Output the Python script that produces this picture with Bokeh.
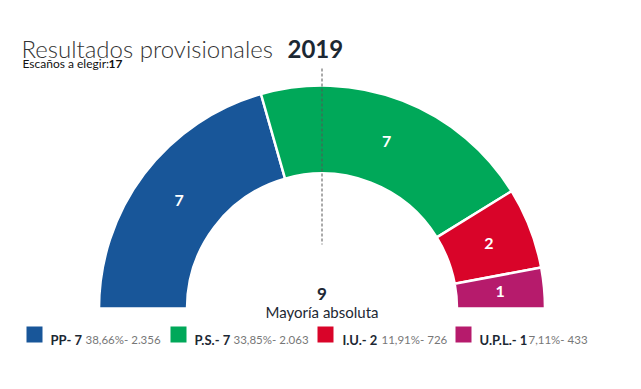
import numpy as np
from bokeh.plotting import figure
from bokeh.models import Range1d, ColumnDataSource
from bokeh.core.properties import value
from bokeh.embed import file_html
from bokeh.resources import INLINE

# ---- data ----
parties = ["PP", "P.S.", "I.U.", "U.P.L."]
seats = [7, 7, 2, 1]
pcts = ["38,66%", "33,85%", "11,91%", "7,11%"]
votes = ["2.356", "2.063", "726", "433"]
colors = ["#185699", "#00a859", "#d90429", "#b61b6c"]
total_seats = 17
majority = 9
year = "2019"

# ---- layout (screen-like coordinates, y up) ----
W, H = 625, 373
p = figure(width=W, height=H, output_backend="svg", toolbar_location=None,
           x_range=Range1d(0, W), y_range=Range1d(389 - H, 389),
           min_border=0, outline_line_color=None)
p.axis.visible = False
p.grid.visible = False
p.background_fill_color = "white"
p.border_fill_color = "white"

def Y(y):
    return 389 - y

cx, cy = 321.5, Y(308)
r_in, r_out = 135, 223

cum = np.cumsum([0] + seats)
start = np.pi - np.pi * cum[1:] / total_seats
end = np.pi - np.pi * cum[:-1] / total_seats
mid = (start + end) / 2
r_mid = (r_in + r_out) / 2

src = ColumnDataSource(dict(start=start, end=end, color=colors,
                            lx=cx + r_mid * np.cos(mid), ly=cy + r_mid * np.sin(mid),
                            lab=[str(s) for s in seats]))
p.annular_wedge(x=cx, y=cy, inner_radius=r_in, outer_radius=r_out,
                start_angle="start", end_angle="end", color="color",
                line_color="white", line_width=2.5, source=src)
p.text(x="lx", y="ly", text="lab", source=src, text_color="white",
       text_font=value("Lato"), text_font_style="bold", text_font_size="16px",
       text_align="center", text_baseline="middle")

# majority dashed line
p.segment(x0=cx, y0=Y(68), x1=cx, y1=Y(244), line_color="#555555",
          line_dash="3 2", line_width=1)

p.text(x=[cx], y=[Y(293)], text=[str(majority)], text_font=value("Lato"),
       text_font_style="bold", text_font_size="17px", text_color="#1c2833",
       text_align="center", text_baseline="alphabetic")
p.text(x=[cx], y=[Y(311)], text=["Mayoría absoluta"], text_font=value("Lato"),
       text_font_size="15px", text_color="#1c2833",
       text_align="center", text_baseline="alphabetic")

# title
p.text(x=[21], y=[Y(48)], text=["Resultados provisionales"],
       text_font=value("Lato Light, Lato"), text_font_size="24px",
       text_color="#333333", text_baseline="alphabetic")
p.text(x=[287], y=[Y(48)], text=[year], text_font=value("Lato"),
       text_font_style="bold", text_font_size="24px",
       text_color="#1c2833", text_baseline="alphabetic")
p.text(x=[22], y=[Y(63)], text=["Escaños a elegir:"], text_font=value("Lato"),
       text_font_size="12px", text_color="#111111", text_baseline="alphabetic")
p.text(x=[108], y=[Y(63)], text=[str(total_seats)], text_font=value("Lato"),
       text_font_style="bold", text_font_size="12px", text_color="#111111",
       text_baseline="alphabetic")

# legend
sq_x = [26, 170, 317, 455]
name_x = [50, 194, 342, 479]
info_x = [85, 233, 381, 528]
p.rect(x=[x + 8 for x in sq_x], y=[Y(334)] * 4, width=16, height=16,
       color=colors, line_color=None)
p.text(x=name_x, y=[Y(339)] * 4, text=[f"{n}- {s}" for n, s in zip(parties, seats)],
       text_font=value("Lato"), text_font_style="bold", text_font_size="13px",
       text_color="#1c2833", text_baseline="alphabetic")
p.text(x=info_x, y=[Y(339)] * 4, text=[f"{a}- {b}" for a, b in zip(pcts, votes)],
       text_font=value("Lato"), text_font_size="11.5px",
       text_color="#777777", text_baseline="alphabetic")

open("out.html", "w").write(file_html(p, INLINE))
